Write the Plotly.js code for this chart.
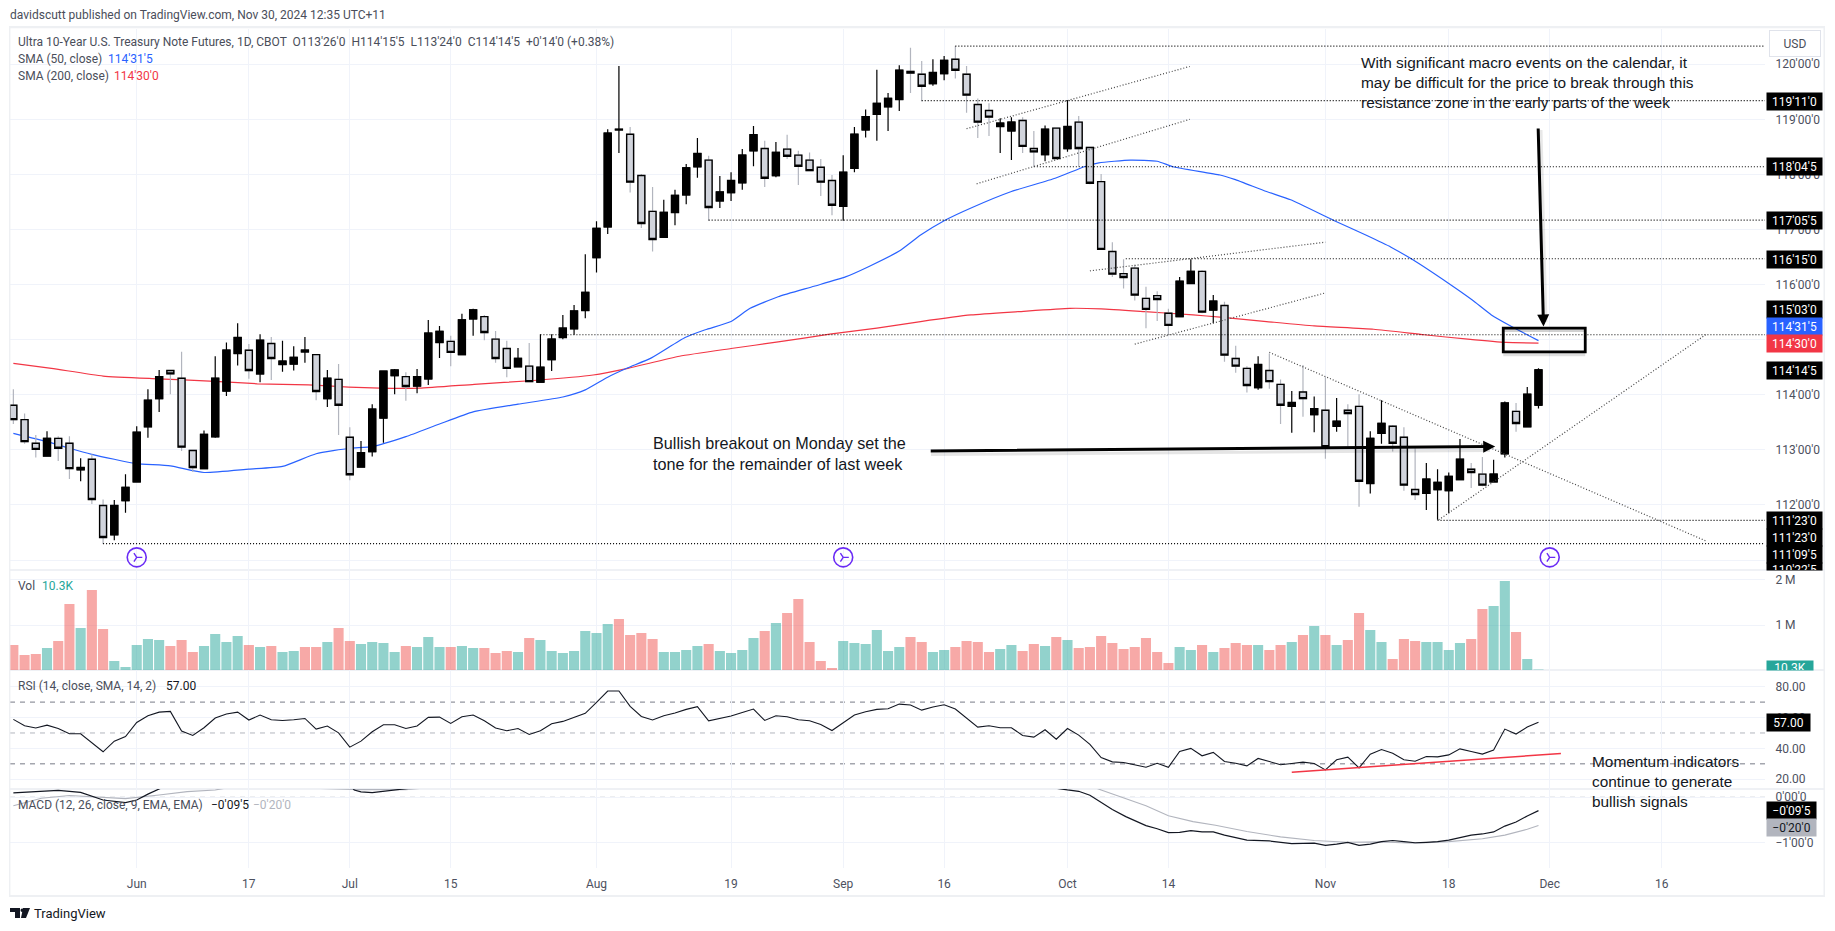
<!DOCTYPE html>
<html><head><meta charset="utf-8">
<script src="https://cdn.plot.ly/plotly-3.0.1.min.js"></script>
<style>html,body{margin:0;padding:0;background:#fff;overflow:hidden}</style></head>
<body><div id="chart" style="width:1835px;height:931px"></div>
<script>
// ---- candles (first bar = bar index -11, bar 0 = 3 Jun 2024) ----
const firstBar = -11;
const high = [114.10,113.66,113.27,113.34,113.25,113.25,112.85,112.92,112.10,112.09,112.56,
113.43,114.10,114.45,114.45,114.78,113.00,113.35,114.70,114.95,115.30,
114.92,115.10,115.05,114.98,114.88,115.05,114.73,114.45,114.56,113.41,
113.16,113.83,114.43,114.47,114.41,114.47,115.36,115.25,115.07,115.47,
115.56,115.45,115.16,114.98,114.85,114.94,115.10,115.10,115.45,115.63,
116.55,117.15,118.82,119.97,118.86,118.01,117.77,117.54,117.72,118.19,
118.66,118.34,117.97,118.04,118.46,118.88,118.61,118.59,118.72,118.43,
118.40,118.28,117.99,118.35,118.86,119.18,119.90,119.48,119.98,120.30,
120.06,120.09,120.15,120.33,119.97,119.38,119.29,119.02,119.04,119.04,
118.79,118.89,118.84,119.35,119.06,118.49,118.01,116.77,116.46,116.36,
115.96,115.88,115.56,116.14,116.46,116.26,115.81,115.69,114.89,114.52,
114.70,114.75,114.28,114.07,114.54,113.97,114.32,113.94,113.83,114.01,
113.34,113.90,113.45,113.41,113.03,112.76,112.65,112.59,113.20,112.76,
112.87,112.82,113.88,113.85,114.14,114.484];
const bodyTop = [113.81,113.55,113.12,113.21,113.21,113.12,112.68,112.83,111.99,111.99,112.32,
113.32,113.90,114.33,114.44,114.30,112.99,113.28,114.30,114.81,115.04,
114.81,114.99,114.93,114.61,114.68,114.81,114.73,114.30,114.28,113.23,
112.95,113.74,114.43,114.45,114.33,114.33,115.12,115.15,114.97,115.36,
115.54,115.42,115.01,114.84,114.66,114.52,114.50,115.01,115.21,115.52,
115.86,117.02,118.75,118.82,118.73,117.98,117.33,117.31,117.62,118.12,
118.38,118.26,117.68,117.89,118.35,118.72,118.47,118.40,118.46,118.35,
118.26,118.13,117.89,118.04,118.73,119.05,119.29,119.38,119.89,119.87,
119.82,119.85,120.07,120.09,119.82,119.27,119.16,118.93,118.95,118.98,
118.47,118.82,118.84,118.87,118.95,118.49,117.87,116.60,116.20,116.30,
115.75,115.80,115.48,116.06,116.24,116.24,115.70,115.62,114.66,114.48,
114.55,114.44,114.19,113.86,114.05,113.75,113.72,113.52,113.72,113.79,
113.21,113.48,113.43,113.23,112.28,112.47,112.41,112.52,112.83,112.65,
112.56,112.56,113.85,113.70,114.01,114.453];
const bodyBottom = [113.55,113.15,113.01,112.89,113.03,112.66,112.64,112.10,111.41,111.46,112.08,
112.42,113.42,113.93,114.38,113.05,112.68,112.66,113.24,114.07,114.75,
114.44,114.38,114.66,114.55,114.56,114.78,114.06,113.93,113.81,112.55,
112.69,112.97,113.58,114.35,114.15,114.16,114.29,114.95,114.77,114.73,
115.38,115.13,114.66,114.48,114.51,114.24,114.23,114.64,115.04,115.20,
115.53,116.49,117.05,118.81,117.86,117.11,116.82,116.86,117.31,117.63,
118.14,117.40,117.52,117.67,117.85,118.43,117.93,117.98,118.33,118.15,
118.07,117.86,117.44,117.42,118.11,118.81,119.09,119.23,119.36,119.84,
119.60,119.65,119.83,119.89,119.44,118.95,119.04,118.87,118.79,118.51,
118.41,118.36,118.29,118.47,118.47,117.84,116.64,116.19,116.13,115.81,
115.55,115.73,115.26,115.42,116.02,115.50,115.54,114.72,114.52,114.17,
114.13,114.24,113.81,113.79,113.93,113.64,113.06,113.43,113.66,112.43,
112.39,113.30,113.12,112.36,112.19,112.21,112.28,112.26,112.46,112.59,
112.36,112.42,112.93,113.48,113.42,113.8125];
const low = [113.47,113.11,112.86,112.89,112.80,112.47,112.43,112.02,111.29,111.36,111.86,
112.42,113.22,113.69,114.01,112.98,112.60,112.66,113.22,113.98,114.53,
114.29,114.23,114.27,114.42,114.44,114.58,113.90,113.78,113.27,112.45,
112.68,112.88,113.13,114.01,113.89,114.03,114.18,114.67,114.52,114.73,
115.07,114.99,114.58,114.32,114.51,114.23,114.23,114.43,115.01,115.09,
115.39,116.22,116.92,118.39,117.67,117.03,116.60,116.85,117.08,117.46,
117.94,117.16,117.39,117.52,117.72,118.15,117.77,117.95,118.28,117.81,
118.06,117.61,117.26,117.16,118.04,118.67,118.61,118.79,119.15,119.48,
119.33,119.61,119.71,119.74,119.12,118.66,118.70,118.39,118.26,118.39,
118.14,118.24,118.27,118.41,118.14,117.82,116.63,116.14,115.93,115.71,
115.21,115.34,115.09,115.42,116.02,115.48,115.30,114.60,114.40,114.04,
114.09,114.11,113.47,113.31,113.60,113.32,112.84,113.33,113.06,111.97,
112.21,113.11,112.97,112.26,112.09,111.91,111.73,111.85,112.46,112.31,
112.34,112.42,112.86,113.33,113.42,113.75];
const candleTone = ("dddudduddu"+"uuuuddduuu"+"ududuuudud"+"duuuuduuud"+"uuddduduuu"+"uuuuuddduu"+"uuduuuudud"+"dddduuuuuu"+"dduudddduu"+"ddududdddd"+"dddduududd"+"duddududud"+"duuddduuuu"+"dduuduu").split("");

// ---- volume, millions ----
const volume = [.556,.333,.356,.489,.644,1.467,.933,1.778,.911,.2,.067,
.556,.689,.667,.533,.667,.4,.533,.8,.622,.756,
.556,.511,.533,.4,.422,.511,.511,.622,.933,.644,
.578,.622,.6,.4,.533,.511,.733,.511,.511,.533,
.489,.489,.378,.422,.4,.711,.667,.422,.378,.422,
.867,.822,1.022,1.133,.778,.822,.689,.4,.4,.444,
.533,.578,.422,.378,.444,.711,.867,1.044,1.267,1.578,
.622,.2,.044,.644,.6,.578,.889,.422,.511,.733,
.622,.4,.444,.511,.644,.622,.4,.467,.556,.422,
.578,.533,.733,.667,.489,.511,.756,.6,.467,.511,
.711,.4,.156,.511,.444,.556,.4,.489,.6,.556,
.556,.444,.556,.622,.778,.978,.778,.556,.667,1.267,
.889,.622,.244,.689,.644,.622,.622,.444,.6,.689,
1.356,1.422,1.978,.844,.244,.0103];
const volumeTone = ("rrrtrrtrrt"+"ttttrrrttt"+"trtrttrrtr"+"rttttrtttr"+"ttrrrtrttt"+"ttttrrrrtt"+"ttrttttrtr"+"rrrrtttttt"+"rrttrrrrtt"+"rrtrtrrrrr"+"rrrrttrtrr"+"rtrrtrtrtr"+"rttrrrtttt"+"rrttrtt").split("");

// ---- RSI ----
const rsi = [58.8,54.7,53.2,55.1,52.9,49.5,49.5,43.6,37.8,44.7,47.7,
56.8,61.2,63.5,64.0,51.2,48.4,53.4,59.7,62.3,63.5,
58.4,61.6,58.6,58.1,58.6,59.4,52.5,54.5,50.1,40.8,
44.7,50.8,55.3,55.3,52.9,54.5,60.1,60.3,56.2,60.5,
61.6,57.9,53.2,51.4,52.9,49.0,51.4,56.0,57.5,60.1,
62.7,69.8,77.2,77.2,67.2,60.7,58.4,61.2,62.9,65.3,
67.0,57.9,59.4,61.0,63.3,65.5,58.1,61.2,60.5,58.6,
57.9,55.5,51.6,56.8,61.6,63.8,65.3,65.7,68.7,68.1,
64.8,66.8,68.3,65.5,59.7,53.8,54.7,53.4,53.4,48.4,
47.3,52.1,46.0,52.9,48.6,42.6,34.1,31.3,30.9,29.4,
27.8,30.4,27.8,38.0,40.0,35.2,37.4,31.5,30.4,28.7,
33.5,31.5,29.4,30.2,31.1,30.2,26.1,32.6,34.3,27.4,
36.3,39.3,36.9,32.6,31.7,34.8,34.5,35.8,39.7,38.0,
36.3,38.9,52.5,49.3,53.8,57.0];

// ---- moving averages: bar index, price ----
const sma50Bars = [-11,-8,-6,-4,-2,0,3,6,10,13,16,19,21,24,27,30,34,38,40,42,43.8,45.9,48.9,50.7,53,54.7,57.2,60.4,63.2,65.3,68,69.9,72,74.5,78,81.9,84.5,85.8,88.6,91,92.4,96.6,97.9,100.75,102.9,106.7,109.6,111.85,113.8,117,119.1,120.8,122.6,125];
const sma50Vals = [113.30,113.15,113.03,112.92,112.83,112.75,112.71,112.59,112.65,112.70,112.93,113.03,113.06,113.24,113.47,113.69,113.83,113.96,114.09,114.32,114.49,114.67,115.04,115.18,115.33,115.57,115.78,115.97,116.14,116.33,116.61,116.90,117.16,117.40,117.69,117.93,118.14,118.21,118.26,118.24,118.14,117.99,117.91,117.69,117.54,117.17,116.90,116.68,116.45,116.02,115.72,115.45,115.24,114.984];
const sma200Bars = [-11,-7.6,-3,1.9,6.5,10.75,15.3,18.9,21.7,25.2,30.1,35.4,40.7,43.8,48.4,53,57.2,61.8,66,69.9,74.4,78.6,83.2,86,89.9,94.2,96.6,100.75,105,110.3,114.8,118.7,122.1,125];
const sma200Vals = [114.57,114.48,114.34,114.29,114.25,114.20,114.18,114.14,114.12,114.12,114.19,114.26,114.36,114.48,114.70,114.84,114.96,115.10,115.21,115.33,115.45,115.51,115.57,115.56,115.51,115.45,115.41,115.33,115.25,115.19,115.09,115.01,114.95,114.9375];

// ---- MACD: bar index, value (pane clips the top) ----
const macdBars = [-11,-9,-7,-5,-3,-1,0,1,2,3,10,19,19.4,20,21,23,25,30,50,75,82,83,84,85,86,87,88.2,90,91,92,93,94,95,96,97,99,101,103,105,106,107,108,109,110,111,112,113,114,115,116,117,118,119,120,121,122,123,124,125];
const macdVals = [.10,.133,.155,.11,-.06,-.12,-.06,.07,.178,.3,.6,.3,.16,.12,.104,.16,.22,.4,.8,.7,.2,.163,.133,.044,-.11,-.27,-.43,-.63,-.70,-.785,-.78,-.74,-.77,-.77,-.84,-.95,-.97,-1.03,-1.02,-1.07,-1.04,-1.0,-1.07,-1.04,-.985,-.96,-.985,-1.01,-1.0,-.985,-.95,-.89,-.84,-.815,-.77,-.64,-.55,-.415,-.297];
const signalBars = [-11,-8.5,-6,-3,-1,2,4.5,7,9,20,24,30,50,75,84,86,88,90,92,94.2,96.2,99,102,105,108,111,114,117,120,122,124,125];
const signalVals = [-.19,-.02,.04,0,-.03,.05,.126,.163,.25,.17,.17,.3,.7,.7,.35,.163,-.02,-.19,-.41,-.54,-.62,-.76,-.88,-.96,-1.0,-.99,-1.02,-.985,-.92,-.84,-.71,-.625];

// ---- time axis ----
const timeTickBars = [0,10,19,28,41,53,63,72,83,92,106,117,126,136];
const timeTickText = ["Jun","17","Jul","15","Aug","19","Sep","16","Oct","14","Nov","18","Dec","16"];

// ---- price / indicator axes (115 and 111 sit fully under price tags) ----
const priceTicks = [120,119,118,117,116,115,114,113,112,111];
const priceTickText = ["120'00'0","119'00'0","118'00'0","117'00'0","116'00'0","","114'00'0","113'00'0","112'00'0",""];

// ---- drawings ----
const levelPrices = [120.33,119.34,118.14,117.17,116.47,115.09,111.72,111.30];
const levelStarts = [73,70,80,51,88.2,36,116,-3];
const diagBar1 = [116.1,101,74,74.9,85,89];
const diagPrice1 = [111.73,114.77,118.83,117.83,116.25,114.92];
const diagBar2 = [139.9,139.9,93.9,93.9,106,106];
const diagPrice2 = [115.09,111.35,119.96,119.0,116.77,115.85];
const eventBars = [0,63,126];

// ---- page geometry ----
const W=1835,H=931,L=10,R=1765,T=29,B=868;
const px=x=>(x-L)/(R-L), py=y=>(B-y)/(B-T);
const barRight=145.2, barLeft=-11.3;
const bars = high.map((_,i)=>i+firstBar);
const up = candleTone.map(t=>t==="u");
const open = bodyTop.map((t,i)=>up[i]?bodyBottom[i]:t);
const close = bodyTop.map((t,i)=>up[i]?t:bodyBottom[i]);

const FONT='Roboto, sans-serif', ARIAL='"Liberation Sans", Arial, sans-serif';
const GRID='#f0f3fa', AX='#4d5160', SZ=12;

const traces=[
 {type:'scatter',mode:'lines',x:sma200Bars,y:sma200Vals,yaxis:'y',xaxis:'x',line:{color:'#f23645',width:1.2,shape:'spline',smoothing:0.5},hoverinfo:'skip'},
 {type:'scatter',mode:'lines',x:sma50Bars,y:sma50Vals,yaxis:'y',xaxis:'x',line:{color:'#2962ff',width:1.2,shape:'spline',smoothing:0.5},hoverinfo:'skip'},
 {type:'candlestick',x:bars,open:open,high:high,low:low,close:close,yaxis:'y5',xaxis:'x',
  increasing:{line:{color:'#000',width:1.2},fillcolor:'#000'},
  decreasing:{line:{color:'#b2b5be',width:1.2},fillcolor:'#b2b5be'},hoverinfo:'skip'},
 {type:'candlestick',x:bars,open:open,high:bodyTop,low:bodyBottom,close:close,yaxis:'y5',xaxis:'x',
  increasing:{line:{color:'#000',width:1.4},fillcolor:'#000'},
  decreasing:{line:{color:'#000',width:1.4},fillcolor:'#d1d4dc'},hoverinfo:'skip'},
 {type:'scatter',mode:'markers',x:eventBars,y:eventBars.map(()=>111.05),yaxis:'y',xaxis:'x',
  marker:{symbol:'circle-open',size:19,color:'#6a2bf5',line:{width:1.6,color:'#6a2bf5'}},hoverinfo:'skip'},
 {type:'scatter',mode:'markers',x:eventBars,y:eventBars.map(()=>111.05),yaxis:'y',xaxis:'x',
  marker:{symbol:'y-right-open',size:7,color:'#6a2bf5',line:{width:1.4,color:'#6a2bf5'}},hoverinfo:'skip'},
 {type:'bar',x:bars,y:volume,yaxis:'y2',xaxis:'x',width:0.9,
  marker:{color:volumeTone.map(t=>t==='r'?'rgba(239,83,80,0.5)':'rgba(38,166,154,0.5)'),line:{width:0}},hoverinfo:'skip'},
 {type:'scatter',mode:'lines',x:bars,y:rsi,yaxis:'y3',xaxis:'x',line:{color:'#131722',width:1.1},hoverinfo:'skip'},
 {type:'scatter',mode:'lines',x:signalBars,y:signalVals,yaxis:'y4',xaxis:'x',line:{color:'#b2b5be',width:1.1},hoverinfo:'skip'},
 {type:'scatter',mode:'lines',x:macdBars,y:macdVals,yaxis:'y4',xaxis:'x',line:{color:'#131722',width:1.2},hoverinfo:'skip'}
];

const yBase={side:'right',anchor:'x',showgrid:true,gridcolor:GRID,gridwidth:1,zeroline:false,showline:false,
 ticks:'outside',ticklen:7,tickcolor:'rgba(0,0,0,0)',tickfont:{family:FONT,size:SZ,color:AX},tickmode:'array'};

const shapes=[];
function rectPx(x0,y0,x1,y1,fill,extra){shapes.push(Object.assign({type:'rect',xref:'paper',yref:'paper',x0:px(x0),x1:px(x1),y0:py(y0),y1:py(y1),fillcolor:fill,line:{width:0},layer:'above'},extra||{}));}
rectPx(9,26,1825,28.3,'#eef0f3');rectPx(9,26,10.4,897,'#eef0f3');rectPx(9,895,1825,897,'#eef0f3');rectPx(1823.5,26,1825,897,'#eef0f3');
[570,670,789].forEach(y=>rectPx(10,y-0.6,1824,y+0.6,'#e0e3eb',{layer:'below'}));
levelPrices.forEach((p,i)=>shapes.push({type:'line',xref:'x',yref:'y',x0:levelStarts[i],x1:barRight,y0:p,y1:p,line:{color:'#000',width:1.2,dash:'1px,2px'}}));
diagBar1.forEach((b,i)=>shapes.push({type:'line',xref:'x',yref:'y',x0:b,x1:diagBar2[i],y0:diagPrice1[i],y1:diagPrice2[i],line:{color:'#444',width:1.2,dash:'1px,2px'}}));
[[70,'#787b86'],[50,'#b2b5be'],[30,'#787b86']].forEach(d=>shapes.push({type:'line',xref:'x',yref:'y3',x0:barLeft,x1:barRight,y0:d[0],y1:d[0],line:{color:d[1],width:1,dash:'5px,5px'},layer:'below'}));
shapes.push({type:'line',xref:'x',yref:'y4',x0:barLeft,x1:barRight,y0:0,y1:0,line:{color:'#b2b5be',width:1,dash:'5px,5px'},layer:'below'});
shapes.push({type:'line',xref:'x',yref:'y3',x0:103,x1:127,y0:24.6,y1:36.7,line:{color:'#f23645',width:1.5}});
shapes.push({type:'rect',xref:'x',yref:'y',x0:121.86,x1:129.17,y0:115.21,y1:115.14,fillcolor:'rgba(0,0,0,0.18)',line:{width:0}});
shapes.push({type:'rect',xref:'x',yref:'y',x0:121.86,x1:129.17,y0:114.78,y1:114.70,fillcolor:'rgba(0,0,0,0.12)',line:{width:0}});
shapes.push({type:'rect',xref:'x',yref:'y',x0:121.86,x1:129.17,y0:114.78,y1:115.21,fillcolor:'rgba(0,0,0,0)',line:{color:'#000',width:2.8}});
shapes.push({type:'line',xref:'paper',yref:'paper',x0:px(931),x1:px(1490),y0:py(454.5),y1:py(450.5),line:{color:'rgba(0,0,0,0.10)',width:3}});
shapes.push({type:'line',xref:'paper',yref:'paper',x0:px(1541),x1:px(1546),y0:py(130),y1:py(322),line:{color:'rgba(0,0,0,0.09)',width:3}});
function pathPx(pts){return 'M'+pts.map(p=>px(p[0])+','+py(p[1])).join('L')+'Z';}
[[[10,908],[20,908],[20,918],[15,918],[15,912],[10,912]],[[23,908],[30,908],[26,918],[21,918]]].forEach(p=>shapes.push({type:'path',xref:'paper',yref:'paper',path:pathPx(p),fillcolor:'#131722',line:{width:0}}));
shapes.push({type:'circle',xref:'paper',yref:'paper',x0:px(20.5),x1:px(23.7),y0:py(912),y1:py(908.6),fillcolor:'#131722',line:{width:0}});

const ann=[];
function txt(x,y,s,o){ann.push(Object.assign({xref:'paper',yref:'paper',x:px(x),y:py(y),text:s,showarrow:false,xanchor:'left',yanchor:'middle',align:'left',font:{family:FONT,size:SZ,color:'#4a4e5a'}},o||{}));}
txt(8,15,"davidscutt published on TradingView.com, Nov 30, 2024 12:35 UTC+11");
txt(16,42,"Ultra 10-Year U.S. Treasury Note Futures, 1D, CBOT  O113'26'0  H114'15'5  L113'24'0  C114'14'5  +0'14'0 (+0.38%)");
txt(16,59,"SMA (50, close)");txt(105.5,59,"114'31'5",{font:{family:FONT,size:SZ,color:'#2962ff'}});
txt(16,76,"SMA (200, close)");txt(112,76,"114'30'0",{font:{family:FONT,size:SZ,color:'#f23645'}});
txt(16,586,"Vol");txt(40,586,"10.3K",{font:{family:FONT,size:SZ,color:'#26a69a'}});
txt(16,685.5,"RSI (14, close, SMA, 14, 2)");txt(164,685.5,"57.00",{font:{family:FONT,size:SZ,color:'#131722'}});
txt(16,804.5,"MACD (12, 26, close, 9, EMA, EMA)");txt(209,804.5,"−0'09'5",{font:{family:FONT,size:SZ,color:'#131722'}});txt(251,804.5,"−0'20'0",{font:{family:FONT,size:SZ,color:'#b2b5be'}});
txt(31.5,913,"TradingView",{font:{family:FONT,size:13,color:'#131722'}});
const NOTE={font:{family:ARIAL,size:15.4,color:'#131722'}};
txt(1359,82.5,"With significant macro events on the calendar, it<br>may be difficult for the price to break through this<br>resistance zone in the early parts of the week",NOTE);
txt(651,453.5,"Bullish breakout on Monday set the<br>tone for the remainder of last week",{font:{family:ARIAL,size:16.2,color:'#131722'}});
txt(1590,781,"Momentum indicators<br>continue to generate<br>bullish signals",NOTE);
ann.push({xref:'x',yref:'y',axref:'x',ayref:'y',x:121.14,y:113.06,ax:70.67,ay:112.98,showarrow:true,arrowhead:2,arrowsize:0.8,arrowwidth:3,arrowcolor:'#000',text:''});
ann.push({xref:'x',yref:'y',axref:'x',ayref:'y',x:125.45,y:115.24,ax:124.97,ay:118.86,showarrow:true,arrowhead:2,arrowsize:0.8,arrowwidth:3,arrowcolor:'#000',text:''});
function tag(y,s,bg,fg,w,h,o){ann.push(Object.assign({xref:'paper',yref:'paper',x:px(1765.5),y:py(y),text:s,showarrow:false,xanchor:'left',yanchor:'middle',align:'center',width:w||55,height:h||17,bgcolor:bg,borderpad:0,font:{family:FONT,size:SZ,color:fg}},o||{}));}
tag(101.5,"119'11'0",'#000','#fff');tag(166.5,"118'04'5",'#000','#fff');tag(220.5,"117'05'5",'#000','#fff');tag(259.5,"116'15'0",'#000','#fff');
tag(309.5,"115'03'0",'#000','#fff');tag(326.5,"114'31'5",'#2962ff','#fff');tag(343.5,"114'30'0",'#f23645','#fff');tag(370.5,"114'14'5",'#000','#fff');
tag(520.5,"111'23'0",'#000','#fff');tag(537.5,"111'23'0",'#000','#fff');tag(554.5,"111'09'5",'#000','#fff');
tag(566.5,"110'22'5",'#000','#fff',55,7,{valign:'top'});
tag(665.4,"10.3K",'#26a69a','#fff',46,9,{valign:'top'});
tag(722.5,"57.00",'#000','#fff',43,17);
tag(810.7,"−0'09'5",'#000','#fff',49,17);tag(827.7,"−0'20'0",'#b2b5be','#131722',49,17);
ann.push({xref:'paper',yref:'paper',x:px(1769),y:py(44),text:"USD",showarrow:false,xanchor:'left',yanchor:'middle',align:'center',width:50,height:25,bgcolor:'#fff',bordercolor:'#e0e3eb',borderwidth:1,borderpad:0,font:{family:FONT,size:SZ,color:'#4a4e5a'}});

const paneDom=(top,bot)=>[py(bot),py(top)];
const layout={
 width:W,height:H,autosize:false,paper_bgcolor:'#fff',plot_bgcolor:'#fff',
 margin:{l:L,r:W-R,t:T,b:H-B,pad:0},showlegend:false,dragmode:false,barmode:'overlay',
 boxmode:'overlay',boxgap:0.38,boxgroupgap:0,
 xaxis:{domain:[0,1],range:[barLeft,barRight],anchor:'y4',tickmode:'array',tickvals:timeTickBars,ticktext:timeTickText,
  showgrid:true,gridcolor:GRID,zeroline:false,showline:false,ticks:'outside',ticklen:5,tickcolor:'rgba(0,0,0,0)',
  tickfont:{family:FONT,size:SZ,color:AX},rangeslider:{visible:false},fixedrange:true},
 yaxis:Object.assign({},yBase,{domain:paneDom(T,570),range:[110.82,120.64],tickvals:priceTicks,ticktext:priceTickText}),
 yaxis5:{overlaying:'y',side:'right',anchor:'x',range:[110.82,120.64],visible:false,showgrid:false,zeroline:false},
 yaxis2:Object.assign({},yBase,{domain:paneDom(570,670),range:[0,2.222],tickvals:[1,2],ticktext:["1 M","2 M"]}),
 yaxis3:Object.assign({},yBase,{domain:paneDom(670,789),range:[13.7,90.8],tickvals:[20,40,60,80],ticktext:["20.00","40.00","60.00","80.00"]}),
 yaxis4:Object.assign({},yBase,{domain:paneDom(789,B),range:[-1.571,0.184],tickvals:[0,-1],ticktext:["0'00'0","−1'00'0"],gridcolor:GRID}),
 shapes:shapes,annotations:ann
};
Plotly.newPlot('chart',traces,layout,{displayModeBar:false,staticPlot:true,responsive:false});
</script></body></html>
